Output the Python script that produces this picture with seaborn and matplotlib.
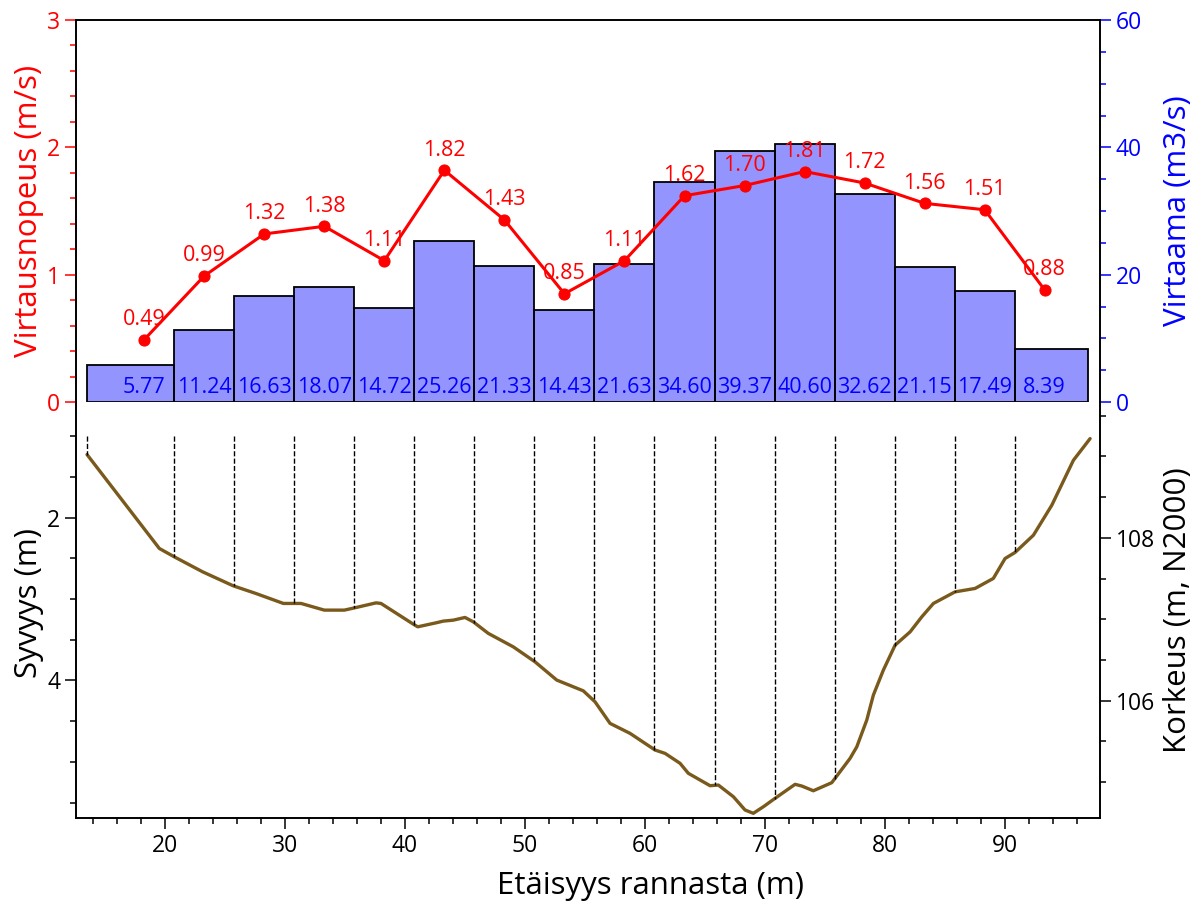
import numpy as np
import pandas as pd
import matplotlib
matplotlib.use("Agg")
import matplotlib.pyplot as plt
import seaborn as sns
from matplotlib.ticker import MultipleLocator

# ---------------- data ----------------
station_x = [18.3, 23.3, 28.3, 33.3, 38.3, 43.3, 48.3, 53.3,
             58.3, 63.3, 68.3, 73.3, 78.3, 83.3, 88.3, 93.3]
velocity = [0.49, 0.99, 1.32, 1.38, 1.11, 1.82, 1.43, 0.85,
            1.11, 1.62, 1.70, 1.81, 1.72, 1.56, 1.51, 0.88]
discharge = [5.77, 11.24, 16.63, 18.07, 14.72, 25.26, 21.33, 14.43,
             21.63, 34.60, 39.37, 40.60, 32.62, 21.15, 17.49, 8.39]
segment_edges = [13.55, 20.8, 25.8, 30.8, 35.8, 40.8, 45.8, 50.8, 55.8,
                 60.8, 65.8, 70.8, 75.8, 80.8, 85.8, 90.8, 96.9]

profile_x = [13.54, 19.56, 20.81, 23.17, 25.72, 27.61, 29.89, 31.36, 33.30,
             34.97, 35.83, 37.61, 38.02, 40.75, 41.08, 42.61, 43.21, 44.05,
             45.02, 45.71, 46.96, 49.04, 50.85, 52.66, 54.87, 55.85, 57.10,
             58.76, 60.85, 61.68, 62.93, 63.62, 65.43, 66.12, 67.37, 68.34,
             69.03, 69.87, 70.84, 72.51, 73.07, 74.03, 75.56, 75.84, 77.09,
             77.65, 78.48, 79.03, 79.86, 80.84, 82.09, 83.06, 84.03, 85.83,
             87.50, 89.02, 90.00, 90.83, 92.36, 93.89, 95.69, 97.08]
profile_depth = [1.227, 2.380, 2.483, 2.667, 2.839, 2.933, 3.055, 3.055, 3.137,
                 3.137, 3.109, 3.048, 3.055, 3.313, 3.342, 3.293, 3.272, 3.260,
                 3.227, 3.281, 3.423, 3.588, 3.772, 3.996, 4.128, 4.263, 4.528,
                 4.650, 4.855, 4.896, 5.018, 5.141, 5.293, 5.285, 5.428, 5.591,
                 5.632, 5.551, 5.448, 5.276, 5.297, 5.355, 5.256, 5.202, 4.957,
                 4.815, 4.487, 4.180, 3.874, 3.567, 3.404, 3.220, 3.055, 2.913,
                 2.871, 2.748, 2.503, 2.429, 2.217, 1.849, 1.297, 1.031]
water_level = 110.25

vel_label = "Virtausnopeus (m/s)"
q_label = "Virtaama (m3/s)"
depth_label = "Syvyys (m)"
elev_label = "Korkeus (m, N2000)"
x_label = "Etäisyys rannasta (m)"

# ---------------- style ----------------
sns.set_theme(style="ticks")
plt.rcParams["font.family"] = ["Open Sans", "DejaVu Sans"]
plt.rcParams["axes.edgecolor"] = "black"
plt.rcParams["axes.linewidth"] = 1.2
plt.rcParams["text.color"] = "black"
plt.rcParams["axes.labelcolor"] = "black"

TICK_FS = 16.5
LABEL_FS = 22.5
VAL_FS = 15.5

fig = plt.figure(figsize=(11.93, 9.01), dpi=100)
left, right = 0.0637, 0.922
top, mid, bottom = 0.9778, 0.5538, 0.0918
ax_v = fig.add_axes([left, mid, right - left, top - mid])
ax_d = fig.add_axes([left, bottom, right - left, mid - bottom], sharex=ax_v)
ax_q = ax_v.twinx()
ax_e = ax_d.twinx()

df_st = pd.DataFrame({"x": station_x, "v": velocity, "q": discharge})
df_prof = pd.DataFrame({"x": profile_x, "d": profile_depth})

# discharge bars (segments) on right axis of top panel
sns.histplot(data=df_st, x="x", weights="q", bins=segment_edges, ax=ax_q,
             color="blue", alpha=0.42, edgecolor="black", linewidth=1.3,
             stat="count", legend=False)
for xs, q in zip(station_x, discharge):
    ax_q.annotate(f"{q:.2f}", (xs, 0), xytext=(0, 3), textcoords="offset points",
                  ha="center", va="bottom", color="blue", fontsize=VAL_FS)

# velocity line on left axis (drawn above bars)
ax_v.set_zorder(ax_q.get_zorder() + 1)
ax_v.patch.set_visible(False)
sns.lineplot(data=df_st, x="x", y="v", ax=ax_v, color="red", linewidth=2.2,
             marker="o", markersize=8, markeredgecolor="red", legend=False)
for xs, v in zip(station_x, velocity):
    ax_v.annotate(f"{v:.2f}", (xs, v), xytext=(0, 7), textcoords="offset points",
                  ha="center", va="bottom", color="red", fontsize=VAL_FS)

ax_v.set_ylim(0, 3)
ax_q.set_ylim(0, 60)
ax_v.set_xlim(12.62, 97.9)

ax_v.yaxis.set_major_locator(MultipleLocator(1))
ax_v.yaxis.set_minor_locator(MultipleLocator(0.2))
ax_q.yaxis.set_major_locator(MultipleLocator(20))
ax_q.yaxis.set_minor_locator(MultipleLocator(5))

ax_v.set_ylabel(vel_label, color="red", fontsize=LABEL_FS, labelpad=2)
ax_q.set_ylabel(q_label, color="blue", fontsize=LABEL_FS)
ax_q.yaxis.set_label_coords(1.062, 0.5)
ax_v.set_xlabel("")
ax_q.set_xlabel("")
ax_v.tick_params(axis="y", which="both", colors="red", labelsize=TICK_FS)
ax_q.tick_params(axis="y", which="both", colors="blue", labelsize=TICK_FS)
ax_v.tick_params(axis="x", which="both", bottom=False, labelbottom=False)
for a in (ax_v, ax_q):
    a.spines["bottom"].set_visible(False)
    a.spines["top"].set_visible(True)
    a.spines["right"].set_visible(True)

# bottom panel: bed profile
sns.lineplot(data=df_prof, x="x", y="d", ax=ax_d, color="#7a5a1c",
             linewidth=2.4, legend=False, sort=False)
edge_depths = np.interp(segment_edges[:-1], profile_x, profile_depth)
ax_d.vlines(segment_edges[:-1], 1.0, edge_depths, colors="black",
            linestyles="--", linewidth=1.0)

depth_top, depth_bot = 0.582, 5.693
ax_d.set_ylim(depth_bot, depth_top)
ax_e.set_ylim(water_level - depth_bot, water_level - depth_top)
ax_d.yaxis.set_major_locator(MultipleLocator(2))
ax_d.yaxis.set_minor_locator(MultipleLocator(0.5))
ax_e.yaxis.set_major_locator(MultipleLocator(2))
ax_e.yaxis.set_minor_locator(MultipleLocator(0.5))
ax_d.xaxis.set_major_locator(MultipleLocator(10))
ax_d.xaxis.set_minor_locator(MultipleLocator(2))

ax_d.set_ylabel(depth_label, color="black", fontsize=LABEL_FS, labelpad=2)
ax_d.yaxis.label.set_y(0.517)
ax_e.set_ylabel(elev_label, color="black", fontsize=LABEL_FS)
ax_e.yaxis.set_label_coords(1.062, 0.5)
ax_d.set_xlabel(x_label, fontsize=LABEL_FS, labelpad=9.5, color="black")
ax_d.xaxis.label.set_x(0.5615)
ax_d.tick_params(axis="both", which="both", colors="black", labelsize=TICK_FS)
ax_e.tick_params(axis="y", which="both", colors="black", labelsize=TICK_FS)
for a in (ax_d, ax_e):
    a.spines["top"].set_visible(False)
    a.spines["right"].set_visible(True)

for a in (ax_v, ax_q, ax_d, ax_e):
    a.tick_params(which="major", length=8, width=1.1, direction="out")
    a.tick_params(which="minor", length=4.5, width=1.1, direction="out")

fig.savefig("out.png", dpi=100)
